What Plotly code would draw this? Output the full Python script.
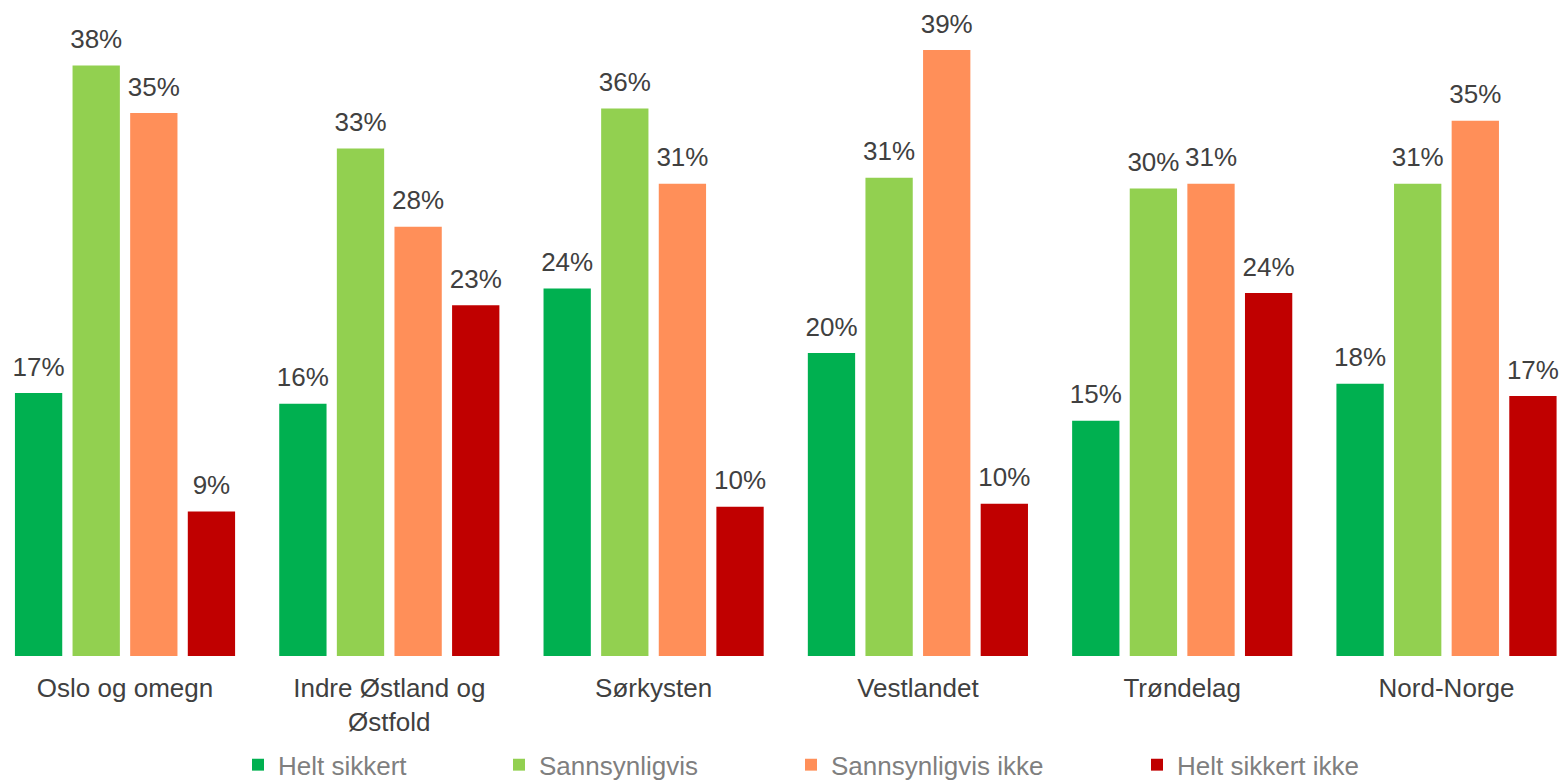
import plotly.graph_objects as go

categories = ["Oslo og omegn", "Indre Østland og<br>Østfold", "Sørkysten", "Vestlandet", "Trøndelag", "Nord-Norge"]
series_names = ["Helt sikkert", "Sannsynligvis", "Sannsynligvis ikke", "Helt sikkert ikke"]
helt_sikkert = [17.1, 16.4, 23.9, 19.7, 15.3, 17.7]
sannsynligvis = [38.4, 33.0, 35.6, 31.1, 30.4, 30.7]
sannsynligvis_ikke = [35.3, 27.9, 30.7, 39.4, 30.7, 34.8]
helt_sikkert_ikke = [9.4, 22.8, 9.7, 9.9, 23.6, 16.9]
colors = ["#00B050", "#92D050", "#FF8F59", "#C00000"]

FONT = "Liberation Sans, Arial, sans-serif"
W, H = 1562, 782
T, B = 30, 126
LABEL_LIFT = 0.55  # extra gap (in % units) between bar top and its value label

fig = go.Figure()
all_series = [helt_sikkert, sannsynligvis, sannsynligvis_ikke, helt_sikkert_ikke]
legend_ids = ["legend", "legend2", "legend3", "legend4"]
xs = list(range(len(categories)))
for k, (name, vals, col, lg) in enumerate(zip(series_names, all_series, colors, legend_ids)):
    fig.add_trace(go.Bar(
        x=xs, y=vals, name=name, offsetgroup=str(k),
        marker=dict(color=col, line=dict(width=0)),
        legend=lg, hoverinfo="x+y",
    ))
    # transparent carrier for the value label, sitting on top of the bar
    fig.add_trace(go.Bar(
        x=xs, y=[LABEL_LIFT] * len(vals), base=vals, offsetgroup=str(k),
        customdata=vals, texttemplate="%{customdata:.0f}%", textposition="outside",
        textfont=dict(family=FONT, size=26, color="#404040"),
        marker=dict(color="rgba(0,0,0,0)", line=dict(width=0)),
        constraintext="none", cliponaxis=False, showlegend=False, hoverinfo="skip",
    ))

leg_x_px = [238, 499, 791, 1137]
leg_common = dict(orientation="h", yanchor="middle", xanchor="left", y=-0.1737,
                  font=dict(family=FONT, size=26, color="#7F7F7F"),
                  bgcolor="rgba(0,0,0,0)")
layout_legends = {}
for lg, xp in zip(legend_ids, leg_x_px):
    layout_legends[lg] = dict(x=xp / W, **leg_common)

fig.update_layout(
    width=W, height=H,
    margin=dict(l=0, r=0, t=T, b=B, autoexpand=False),
    paper_bgcolor="white", plot_bgcolor="white",
    barmode="group", bargap=0.128, bargroupgap=0.179,
    showlegend=True,
    xaxis=dict(tickmode="array", tickvals=xs, ticktext=categories,
               range=[-0.473, 5.437], showgrid=False, zeroline=False, showline=False, ticks="",
               ticklabelstandoff=14, automargin=False,
               tickfont=dict(family=FONT, size=26, color="#404040")),
    yaxis=dict(range=[0, 40.70], visible=False, showgrid=False, zeroline=False, automargin=False),
    **layout_legends,
)

fig.write_html("out.html", config={"displayModeBar": False},
               post_script="document.body.style.margin='0';document.body.style.overflow='hidden';")
